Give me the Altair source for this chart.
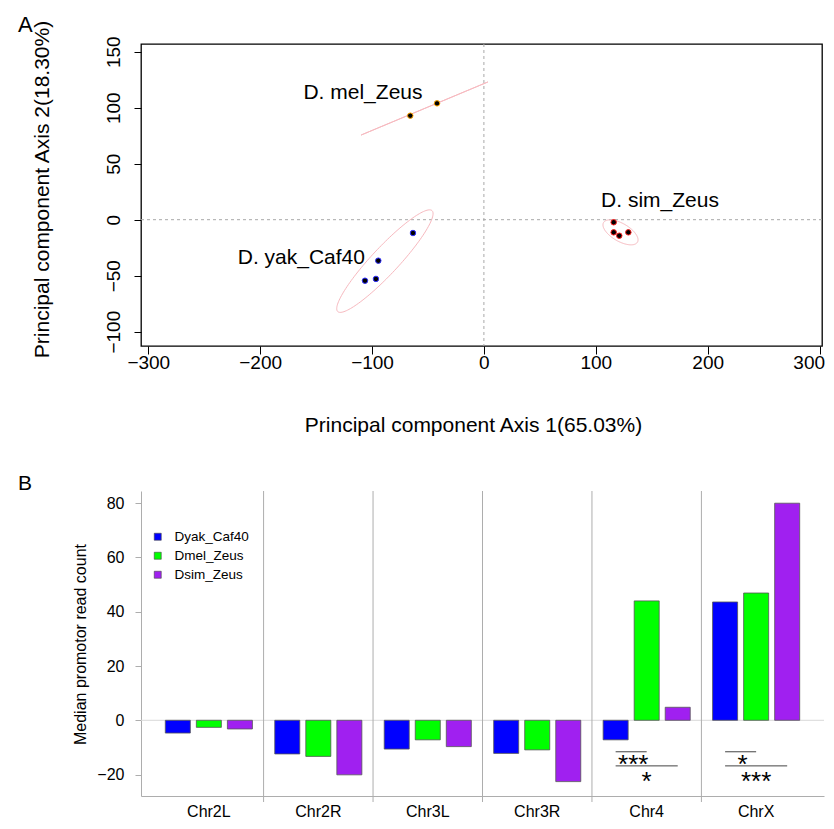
import altair as alt
import numpy as np
import pandas as pd

FONT = "Liberation Sans"

# ---------------- Panel A data (PCA) ----------------
pt_group = ["D. mel_Zeus", "D. mel_Zeus",
            "D. yak_Caf40", "D. yak_Caf40", "D. yak_Caf40", "D. yak_Caf40",
            "D. sim_Zeus", "D. sim_Zeus", "D. sim_Zeus", "D. sim_Zeus"]
pt_x = [-65.8, -41.9, -63.4, -94.4, -96.5, -106.3, 116.0, 116.0, 121.0, 129.1]
pt_y = [92.9, 103.9, -11.9, -36.6, -52.9, -54.5, -2.3, -11.3, -14.3, -11.3]

groups = ["D. mel_Zeus", "D. yak_Caf40", "D. sim_Zeus"]
group_edge = ["#FFA500", "#3030FF", "#FF2020"]

lab_text = ["D. mel_Zeus", "D. yak_Caf40", "D. sim_Zeus"]
lab_x = [-108.1, -163.2, 157.4]
lab_y = [107.8, -39.6, 11.1]

# ellipse parameters (centre, semi-axes, angle in degrees)
ell_cx = [-53.1, -88.5, 122.1]
ell_cy = [99.3, -37.0, -11.3]
ell_a = [61.5, 61.7, 17.5]
ell_b = [0.0, 12.0, 8.0]
ell_angle = [22.7, 46.9, -30.0]

# ---------------- Panel B data (bars) ----------------
chromosomes = ["Chr2L", "Chr2R", "Chr3L", "Chr3R", "Chr4", "ChrX"]
series = ["Dyak_Caf40", "Dmel_Zeus", "Dsim_Zeus"]
series_colors = ["#0000FF", "#00FF00", "#A020F0"]
dyak = [-4.7, -12.4, -10.6, -12.2, -7.2, 43.6]
dmel = [-2.6, -13.3, -7.2, -10.9, 44.0, 46.9]
dsim = [-3.2, -20.1, -9.7, -22.6, 4.8, 80.0]

sig_chr = ["Chr4", "Chr4", "ChrX", "ChrX"]
sig_to = ["Dmel_Zeus", "Dsim_Zeus", "Dmel_Zeus", "Dsim_Zeus"]
sig_line_y = [-11.6, -16.8, -11.6, -16.8]
sig_text = ["***", "*", "*", "***"]
sig_text_y = [-19.5, -25.6, -19.5, -25.6]
sig_level = ["upper", "lower", "upper", "lower"]

# ---------------- build frames ----------------
pts = pd.DataFrame({"group": pt_group, "x": pt_x, "y": pt_y})
labs = pd.DataFrame({"label": lab_text, "x": lab_x, "y": lab_y})

t = np.linspace(0, 2 * np.pi, 145)
rows = []
for g, cx, cy, a, b, ang in zip(groups, ell_cx, ell_cy, ell_a, ell_b, ell_angle):
    th = np.deg2rad(ang)
    for i, tt in enumerate(t):
        rows.append({
            "group": g, "o": i,
            "x": cx + a * np.cos(tt) * np.cos(th) - b * np.sin(tt) * np.sin(th),
            "y": cy + a * np.cos(tt) * np.sin(th) + b * np.sin(tt) * np.cos(th),
        })
ell = pd.DataFrame(rows)

xsA = alt.Scale(domain=[-306.5, 302.2], nice=False, zero=False)
ysA = alt.Scale(domain=[-112.8, 156.9], nice=False, zero=False)

xaxA = alt.Axis(values=[-300, -200, -100, 0, 100, 200, 300],
                title="Principal component Axis 1(65.03%)", grid=False, domain=False,
                tickSize=8, tickColor="black", tickWidth=1,
                labelFont=FONT, labelFontSize=19, labelColor="black", labelPadding=14,
                labelBaseline="alphabetic", labelFlush=5, labelFlushOffset=5,
                labelOverlap=False,
                titleFont=FONT, titleFontSize=21, titleFontWeight="normal", titleColor="black",
                titleX=332, titleY=85, titleBaseline="alphabetic", titleAlign="center")
yaxA = alt.Axis(values=[-100, -50, 0, 50, 100, 150],
                title="Principal component Axis 2(18.30%)", grid=False, domain=False,
                tickSize=7, tickColor="black", tickWidth=1,
                labelFont=FONT, labelFontSize=19, labelColor="black", labelPadding=15,
                labelAngle=270, labelAlign="center", labelBaseline="alphabetic",
                labelFlush=False, labelOverlap=False,
                titleFont=FONT, titleFontSize=21, titleFontWeight="normal", titleColor="black",
                titleAngle=270, titleX=-93, titleY=145, titleBaseline="alphabetic",
                titleAlign="center")

XA = alt.X("x:Q", scale=xsA, axis=xaxA)
YA = alt.Y("y:Q", scale=ysA, axis=yaxA)

vrule = alt.Chart(pd.DataFrame({"x": [0]})).mark_rule(
    color="#A8A8A8", strokeDash=[3, 3], strokeWidth=1).encode(x=XA)
hrule = alt.Chart(pd.DataFrame({"y": [0]})).mark_rule(
    color="#A8A8A8", strokeDash=[3, 3], strokeWidth=1).encode(y=YA)
ellipses = alt.Chart(ell).mark_line(color="#F7B8BE", strokeWidth=1).encode(
    x=XA, y=YA, detail="group:N", order="o:Q")
points = alt.Chart(pts).mark_point(filled=True, shape="circle", size=30, opacity=1,
                                   fill="black", strokeWidth=1).encode(
    x=XA, y=YA,
    stroke=alt.Stroke("group:N", scale=alt.Scale(domain=groups, range=group_edge), legend=None))
labels = alt.Chart(labs).mark_text(font=FONT, fontSize=21, align="center",
                                   baseline="alphabetic", color="black").encode(
    x=XA, y=YA, text="label:N")
letterA = alt.Chart(pd.DataFrame({"t": ["A"]})).mark_text(
    font=FONT, fontSize=22, align="left", baseline="alphabetic", color="black").encode(
    x=alt.value(-123), y=alt.value(-12), text="t:N")

panelA = alt.layer(vrule, hrule, ellipses, points, labels, letterA).properties(
    width=681, height=302,
    view=alt.ViewBackground(stroke="black", strokeWidth=1.3))

# ---------------- Panel B ----------------
bars = pd.DataFrame({
    "chr": chromosomes * 3,
    "series": [s for s in series for _ in chromosomes],
    "value": dyak + dmel + dsim,
})
sig_lines = pd.DataFrame({
    "id": list(range(4)) * 2,
    "chr": sig_chr * 2,
    "series": ["Dyak_Caf40"] * 4 + sig_to,
    "value": sig_line_y * 2,
})
sig_labels = pd.DataFrame({"chr": sig_chr, "series": ["Dmel_Zeus"] * 4,
                           "value": sig_text_y, "text": sig_text, "level": sig_level})

GRAY = "#ADADAD"
xsB = alt.Scale(domain=chromosomes, paddingInner=0, paddingOuter=0.12)
osB = alt.Scale(domain=series, paddingInner=0.194, paddingOuter=0.36)
ysB = alt.Scale(domain=[-27.9, 84.5], nice=False, zero=False)

xaxB = alt.Axis(title=None, ticks=False, tickSize=0, domainColor=GRAY, domainWidth=1,
                labelFont=FONT, labelFontSize=16, labelColor="black", labelAngle=0,
                labelPadding=20, labelBaseline="alphabetic", grid=False)
yaxB = alt.Axis(values=[-20, 0, 20, 40, 60, 80], title="Median promotor read count",
                grid=False, domainColor=GRAY, tickColor=GRAY, tickSize=6,
                labelFont=FONT, labelFontSize=16, labelColor="black", labelPadding=11,
                titleFont=FONT, titleFontSize=16, titleFontWeight="normal", titleColor="black",
                titleAngle=270, titleX=-56, titleY=153, titleBaseline="alphabetic",
                titleAlign="center")

XB = alt.X("chr:N", scale=xsB, sort=chromosomes, axis=xaxB)
YB = alt.Y("value:Q", scale=ysB, axis=yaxB)
OB = alt.XOffset("series:N", scale=osB, sort=series)

seps = alt.Chart(pd.DataFrame({"chr": chromosomes[1:]})).mark_rule(
    color=GRAY, strokeWidth=1).encode(
    x=alt.X("chr:N", scale=xsB, sort=chromosomes, axis=xaxB, bandPosition=0),
    y=alt.value(0), y2=alt.value(311))
zline = alt.Chart(pd.DataFrame({"value": [0]})).mark_rule(
    color="#D8D8D8", strokeWidth=1).encode(y=YB)
barl = alt.Chart(bars).mark_bar(stroke="#555555", strokeWidth=0.8).encode(
    x=XB, xOffset=OB, y=YB,
    color=alt.Color("series:N", sort=series,
                    scale=alt.Scale(domain=series, range=series_colors),
                    legend=alt.Legend(title=None, orient="none", legendX=10, legendY=39,
                                      symbolType="square", symbolSize=49,
                                      symbolStrokeWidth=0.6, symbolStrokeColor="#444444",
                                      labelFont=FONT, labelFontSize=13.5, labelColor="black",
                                      labelOffset=10, rowPadding=4, padding=0)))
sigl = alt.Chart(sig_lines).mark_line(color="#444444", strokeWidth=1).encode(
    x=XB, xOffset=OB, y=YB, detail="id:N")
sig_up = alt.Chart(sig_labels).transform_filter(alt.datum.level == "upper").mark_text(
    font=FONT, fontSize=26, align="center", baseline="alphabetic", color="black",
    dx=-13.5).encode(x=XB, xOffset=OB, y=YB, text="text:N")
sig_lo = alt.Chart(sig_labels).transform_filter(alt.datum.level == "lower").mark_text(
    font=FONT, fontSize=26, align="center", baseline="alphabetic", color="black").encode(
    x=XB, xOffset=OB, y=YB, text="text:N")
letterB = alt.Chart(pd.DataFrame({"t": ["B"]})).mark_text(
    font=FONT, fontSize=21, align="left", baseline="alphabetic", color="black").encode(
    x=alt.value(-123), y=alt.value(-1), text="t:N")

panelB = alt.layer(zline, seps, barl, sigl, sig_up, sig_lo, letterB).properties(
    width=683, height=305)

chart = alt.vconcat(panelA, panelB, spacing=37).resolve_scale(
    color="independent", stroke="independent").configure_view(stroke=None).properties(
    padding={"left": 9, "top": 5, "right": 0, "bottom": 0}, background="white")

chart.save("out.html", embed_options={"renderer": "svg", "actions": False})
